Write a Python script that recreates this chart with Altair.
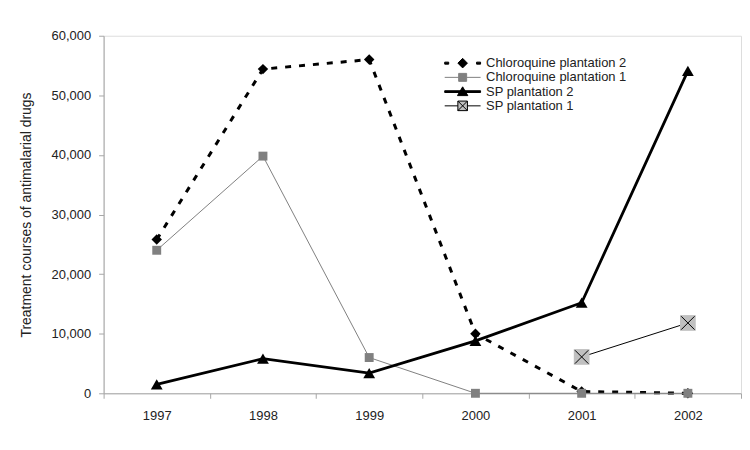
import altair as alt
import pandas as pd

years = ["1997", "1998", "1999", "2000", "2001", "2002"]
chloroquine_p2 = [25800, 54400, 56000, 10000, 300, 0]
chloroquine_p1 = [24000, 39800, 6000, 0, 0, 0]
sp_p2 = [1500, 5800, 3400, 8800, 15200, 54100]
sp_p1 = [None, None, None, None, 6100, 11800]

series_names = ["Chloroquine plantation 2", "Chloroquine plantation 1",
                "SP plantation 2", "SP plantation 1"]
y_ticks = [0, 10000, 20000, 30000, 40000, 50000, 60000]

rows = []
for name, vals in zip(series_names, [chloroquine_p2, chloroquine_p1, sp_p2, sp_p1]):
    for yr, v in zip(years, vals):
        if v is not None:
            rows.append({"year": yr, "value": v, "series": name})
df = pd.DataFrame(rows)

FONT = "Liberation Sans"

x_enc = alt.X("year:O",
              scale=alt.Scale(type="band", domain=years, paddingInner=0, paddingOuter=0),
              axis=alt.Axis(title=None, tickBand="extent", labelAngle=0, domainColor="#a6a6a6",
                            tickColor="#a6a6a6", tickSize=5, labelPadding=11, labelFontSize=13,
                            labelColor="#222", labelFont=FONT, grid=False))
y_enc = alt.Y("value:Q",
              scale=alt.Scale(domain=[0, 60000], nice=False),
              axis=alt.Axis(values=y_ticks, format=",d", grid=False,
                            title="Treatment courses of antimalarial drugs",
                            titleFont=FONT, titleFontSize=14, titleFontWeight="normal",
                            titleColor="#222", titlePadding=18,
                            domainColor="#a6a6a6", tickColor="#a6a6a6", tickSize=5,
                            labelPadding=8, labelFontSize=13, labelColor="#222", labelFont=FONT))

base = alt.Chart(df).encode(x=x_enc, y=y_enc)

def sub(name):
    return base.transform_filter(alt.datum.series == name)

# Chloroquine plantation 2
l1 = sub(series_names[0]).mark_line(color="black", strokeWidth=3, strokeDash=[6, 8])
p1 = sub(series_names[0]).mark_point(shape="diamond", filled=True, color="black", size=110, opacity=1)
# Chloroquine plantation 1
l2 = sub(series_names[1]).mark_line(color="#808080", strokeWidth=1)
p2 = sub(series_names[1]).mark_point(shape="square", filled=True, color="#808080", size=80, opacity=1)
# SP plantation 2
l3 = sub(series_names[2]).mark_line(color="black", strokeWidth=2.8)
p3 = sub(series_names[2]).mark_point(shape="triangle-up", filled=True, color="black", size=140, opacity=1)
# SP plantation 1
l4 = sub(series_names[3]).mark_line(color="black", strokeWidth=1)
p4a = sub(series_names[3]).mark_point(shape="square", filled=True, color="#c0c0c0", size=250, opacity=1)
p4b = sub(series_names[3]).mark_point(shape="M-0.85,-0.85L0.85,0.85M-0.85,0.85L0.85,-0.85",
                                      filled=False, color="black", strokeWidth=1, size=250, opacity=1)

# legend symbols: line + marker combined into one path each
legend_paths = [
    "M0,-1.2L1.2,0L0,1.2L-1.2,0Z M-4.5,-0.25H-3.5V0.25H-4.5Z M3.5,-0.25H4.5V0.25H3.5Z",
    "M-1,-1H1V1H-1Z M-4.5,0H-1 M1,0H4.5",
    "M0,-1.2L1.3,1H-1.3Z M-4.5,-0.22H4.5V0.22H-4.5Z",
    "M-1.2,-1.2H1.2V1.2H-1.2Z M-1.2,-1.2L1.2,1.2 M-1.2,1.2L1.2,-1.2 M-4.5,0H-1.2 M1.2,0H4.5",
]
leg = alt.Legend(title=None, orient="none", legendX=340, legendY=21, symbolSize=64,
                 symbolOffset=14, labelOffset=17, labelFont=FONT, labelFontSize=13,
                 labelColor="#222", rowPadding=0.3, clipHeight=13, symbolOpacity=1,
                 symbolStrokeWidth=1)
legend_layer = alt.Chart(df).transform_filter("false").mark_point(filled=True).encode(
    shape=alt.Shape("series:N", scale=alt.Scale(domain=series_names, range=legend_paths), legend=leg),
    fill=alt.Fill("series:N", scale=alt.Scale(domain=series_names,
                  range=["black", "#808080", "black", "#c0c0c0"]), legend=leg),
    stroke=alt.Stroke("series:N", scale=alt.Scale(domain=series_names,
                      range=["black", "#808080", "black", "black"]), legend=leg),
)

chart = alt.layer(l1, p1, l2, p2, l3, p3, l4, p4a, p4b, legend_layer).properties(
    width=640, height=359,
    padding={"left": 11, "top": 21, "right": 0, "bottom": 5},
).configure_view(stroke=None).configure(background="white")

chart.save("out.html", embed_options={"renderer": "svg", "actions": False})
